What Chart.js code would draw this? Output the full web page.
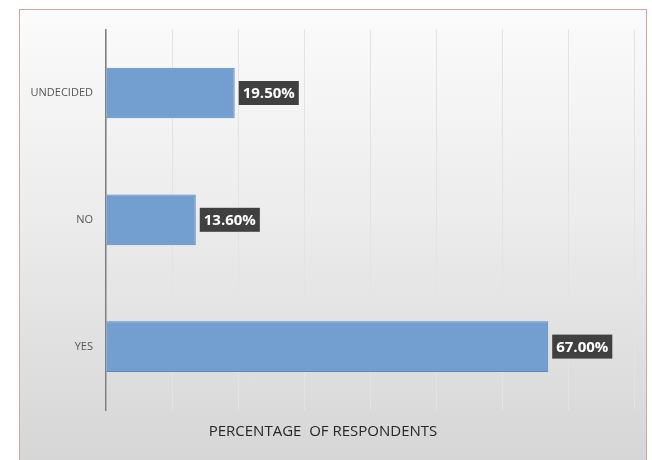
<!DOCTYPE html>
<html>
<head>
<meta charset="utf-8">
<script src="https://cdn.jsdelivr.net/npm/chart.js@4/dist/chart.umd.min.js"></script>
<style>
  html, body { margin: 0; padding: 0; background: #ffffff; width: 652px; height: 460px; overflow: hidden; }
  #frame {
    position: absolute; left: 19px; top: 9px; width: 626px; height: 460px;
    border: 1px solid #d9a3a3; border-bottom: none;
    background: linear-gradient(to bottom, #fbfbfb 0%, #ececec 45%, #d5d5d5 100%);
  }
  #c { position: absolute; left: 12px; top: 10px; }
</style>
</head>
<body>
<div id="frame"></div>
<canvas id="c" width="634" height="450"></canvas>
<script>
const categories = ["UNDECIDED", "NO", "YES"];
const values = [19.5, 13.6, 67.0];
const valueLabels = ["19.50%", "13.60%", "67.00%"];
const axisTitle = "PERCENTAGE  OF RESPONDENTS";

const labelBoxes = {
  id: 'labelBoxes',
  afterDatasetsDraw(chart) {
    const ctx = chart.ctx;
    const meta = chart.getDatasetMeta(0);
    ctx.save();
    ctx.font = 'bold 15px "Open Sans"';
    ctx.textBaseline = 'middle';
    ctx.textAlign = 'left';
    meta.data.forEach((bar, i) => {
      const txt = valueLabels[i];
      const w = ctx.measureText(txt).width + 8;
      const h = 24;
      const x = bar.x + 4;
      const y = bar.y - h / 2;
      ctx.fillStyle = '#404040';
      ctx.fillRect(x, y, w, h);
      ctx.fillStyle = '#ffffff';
      ctx.fillText(txt, x + 4, bar.y + 1);
    });
    ctx.restore();
  }
};

new Chart(document.getElementById('c'), {
  type: 'bar',
  data: {
    labels: categories,
    datasets: [{
      data: values,
      backgroundColor: '#729fd0',
      borderColor: '#5a88bd',
      borderWidth: 1,
      barPercentage: 0.8,
      categoryPercentage: 0.5
    }]
  },
  options: {
    indexAxis: 'y',
    responsive: false,
    animation: false,
    layout: { padding: { top: 18, right: 12, left: 0, bottom: 0 } },
    plugins: {
      legend: { display: false },
      tooltip: { enabled: false },
      title: {
        display: true,
        position: 'bottom',
        text: axisTitle,
        color: '#262626',
        font: { family: '"Open Sans"', size: 15, weight: 'normal' },
        padding: { top: 13, bottom: 19 }
      }
    },
    scales: {
      x: {
        min: 0, max: 80,
        ticks: { display: false, stepSize: 10 },
        grid: { color: '#e3e3e3', drawTicks: false, lineWidth: 1 },
        border: { display: false },
        afterFit(s) { s.height = 0; }
      },
      y: {
        ticks: { color: '#555555', font: { family: '"Open Sans"', size: 11 }, padding: 13 },
        grid: { display: false, drawTicks: false },
        border: { display: true, color: '#7f7f7f', width: 1.5 },
        afterFit(s) { s.width = 94; }
      }
    }
  },
  plugins: [labelBoxes]
});
</script>
</body>
</html>
